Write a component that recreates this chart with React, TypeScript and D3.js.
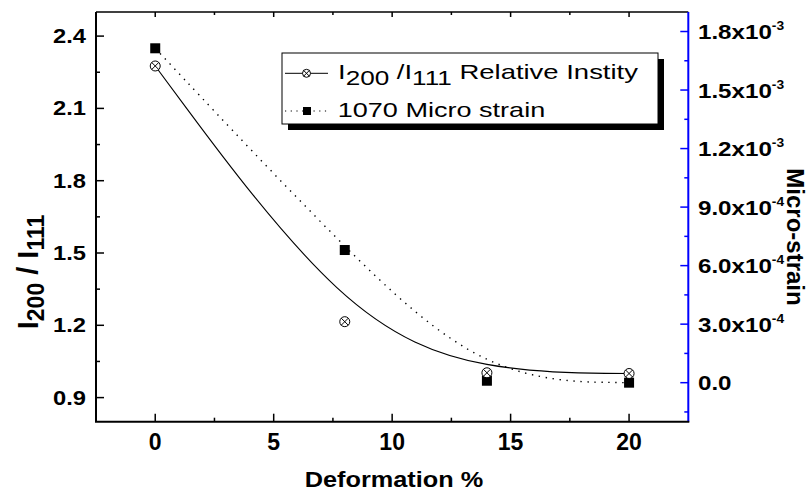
import React from "react";
import * as d3 from "d3";

// deformation (%) and the two measured series
const deformation = [0, 8, 14, 20];
const intensityRatio = [2.276, 1.215, 1.003, 1.0];
const microStrain = [1.714e-3, 6.8e-4, 1e-5, 0];

const xTicks = [0, 5, 10, 15, 20];
const leftTicks = [0.9, 1.2, 1.5, 1.8, 2.1, 2.4];
const rightTicks = [0, 3e-4, 6e-4, 9e-4, 1.2e-3, 1.5e-3, 1.8e-3];

const FONT = "'Liberation Sans', Arial, sans-serif";

const W = 810;
const H = 492;
const plot = { left: 96, top: 12, right: 688.3, bottom: 421.7 };

const minorsOf = (ticks: number[], domain: number[]) => {
  const step = ticks[1] - ticks[0];
  const out: number[] = [];
  ticks.forEach((t) => {
    [t - step / 2, t + step / 2].forEach((m) => {
      if (m > domain[0] + 1e-12 && m < domain[1] - 1e-12 && !out.some((o) => Math.abs(o - m) < step / 10)) out.push(m);
    });
  });
  return out;
};

const fmtSci = (v: number) => {
  if (v === 0) return { base: "0.0", exp: "" };
  const e = Math.floor(Math.log10(v) + 1e-9);
  return { base: `${(v / Math.pow(10, e)).toFixed(1)}x10`, exp: `${e}` };
};

const SText: React.FC<{
  x: number;
  y: number;
  sx?: number;
  anchor?: string;
  size: number;
  bold?: boolean;
  children: React.ReactNode;
}> = ({ x, y, sx = 1, anchor = "start", size, bold, children }) => (
  <text
    transform={`translate(${x},${y}) scale(${sx},1)`}
    textAnchor={anchor}
    fontSize={size}
    fontWeight={bold ? "bold" : "normal"}
    fontFamily={FONT}
  >
    {children}
  </text>
);

const CrossCircle: React.FC<{ cx: number; cy: number; r: number }> = ({ cx, cy, r }) => {
  const d = r * 0.707;
  return (
    <g stroke="#000" strokeWidth={1}>
      <circle cx={cx} cy={cy} r={r} fill="#fff" />
      <line x1={cx - d} y1={cy - d} x2={cx + d} y2={cy + d} />
      <line x1={cx - d} y1={cy + d} x2={cx + d} y2={cy - d} />
    </g>
  );
};

const App: React.FC = () => {
  const x = d3.scaleLinear().domain([-2.5, 22.5]).range([plot.left, plot.right]);
  const yL = d3.scaleLinear().domain([0.8, 2.5]).range([plot.bottom, plot.top]);
  const yR = d3.scaleLinear().domain([-2e-4, 1.9e-3]).range([plot.bottom, plot.top]);

  const ratioLine = d3
    .line<number>()
    .x((_, i) => x(deformation[i]))
    .y((d) => yL(d))
    .curve(d3.curveBasis)(intensityRatio);

  const strainLine = d3
    .line<number>()
    .x((_, i) => x(deformation[i]))
    .y((d) => yR(d))
    .curve(d3.curveBasis)(microStrain);

  const xMinor = minorsOf(xTicks, x.domain());
  const lMinor = minorsOf(leftTicks, yL.domain());
  const rMinor = minorsOf(rightTicks, yR.domain());

  const blue = "#0000ff";
  const sq = 10;

  return (
    <svg width={W} height={H} style={{ position: "absolute", left: 0, top: 0, background: "#fff" }}>
      <rect width={W} height={H} fill="#fff" />

      {/* curves */}
      <path d={ratioLine || ""} fill="none" stroke="#000" strokeWidth={1.1} />
      <path d={strainLine || ""} fill="none" stroke="#000" strokeWidth={1.4} strokeDasharray="1.4,5.6" />

      {/* markers */}
      {microStrain.map((v, i) => (
        <rect key={`s${i}`} x={x(deformation[i]) - sq / 2} y={yR(v) - sq / 2} width={sq} height={sq} fill="#000" />
      ))}
      {intensityRatio.map((v, i) => (
        <CrossCircle key={`c${i}`} cx={x(deformation[i])} cy={yL(v)} r={5} />
      ))}

      {/* frame */}
      <line x1={plot.left} x2={plot.right} y1={plot.top} y2={plot.top} stroke="#000" strokeWidth={1.5} />
      <line x1={plot.left} x2={plot.left} y1={plot.top} y2={plot.bottom} stroke="#000" strokeWidth={2} />
      <line x1={plot.right} x2={plot.right} y1={plot.top} y2={plot.bottom} stroke={blue} strokeWidth={2} />
      <line x1={plot.left - 1} x2={plot.right + 1} y1={plot.bottom} y2={plot.bottom} stroke="#000" strokeWidth={2} />

      {/* x ticks */}
      {xTicks.map((t) => (
        <g key={`xt${t}`} stroke="#000" strokeWidth={1.5}>
          <line x1={x(t)} x2={x(t)} y1={plot.bottom} y2={plot.bottom - 8} />
          <line x1={x(t)} x2={x(t)} y1={plot.top} y2={plot.top + 5} />
        </g>
      ))}
      {xMinor.map((t) => (
        <g key={`xm${t}`} stroke="#000" strokeWidth={1.5}>
          <line x1={x(t)} x2={x(t)} y1={plot.bottom} y2={plot.bottom - 4} />
          <line x1={x(t)} x2={x(t)} y1={plot.top} y2={plot.top + 3} />
        </g>
      ))}
      {xTicks.map((t) => (
        <SText key={`xl${t}`} x={x(t)} y={450} size={23} bold anchor="middle">
          {t}
        </SText>
      ))}

      {/* left ticks */}
      {leftTicks.map((t) => (
        <line key={`lt${t}`} x1={plot.left} x2={plot.left + 8} y1={yL(t)} y2={yL(t)} stroke="#000" strokeWidth={1.5} />
      ))}
      {lMinor.map((t) => (
        <line key={`lm${t}`} x1={plot.left} x2={plot.left + 4} y1={yL(t)} y2={yL(t)} stroke="#000" strokeWidth={1.5} />
      ))}
      {leftTicks.map((t) => (
        <SText key={`ll${t}`} x={86} y={yL(t) + 7} size={21} bold sx={1.13} anchor="end">
          {t.toFixed(1)}
        </SText>
      ))}

      {/* right ticks */}
      {rightTicks.map((t) => (
        <line key={`rt${t}`} x1={plot.right} x2={plot.right - 8} y1={yR(t)} y2={yR(t)} stroke={blue} strokeWidth={1.5} />
      ))}
      {rMinor.map((t) => (
        <line key={`rm${t}`} x1={plot.right} x2={plot.right - 4} y1={yR(t)} y2={yR(t)} stroke={blue} strokeWidth={1.5} />
      ))}
      {rightTicks.map((t) => {
        const f = fmtSci(t);
        return (
          <SText key={`rl${t}`} x={698} y={yR(t) + 7.5} size={21} bold sx={1.15}>
            {f.base}
            {f.exp && (
              <tspan fontSize={12} dy={-9}>
                {f.exp}
              </tspan>
            )}
          </SText>
        );
      })}

      {/* axis titles */}
      <SText x={394} y={487} size={22} bold sx={1.15} anchor="middle">
        Deformation %
      </SText>
      <text
        transform={`translate(787,237) rotate(90)`}
        textAnchor="middle"
        fontSize={24}
        fontWeight="bold"
        fontFamily={FONT}
      >
        Micro-strain
      </text>
      <text
        transform={`translate(38,272) rotate(-90)`}
        textAnchor="middle"
        fontSize={29}
        fontWeight="bold"
        fontFamily={FONT}
      >
        I
        <tspan fontSize={23} dy={6}>
          200
        </tspan>
        <tspan dy={-6}> / I</tspan>
        <tspan fontSize={23} dy={6}>
          111
        </tspan>
      </text>

      {/* legend */}
      <rect x={288} y={59} width={376} height={71} fill="#000" />
      <rect x={282} y={53} width={376} height={71} fill="#fff" stroke="#000" strokeWidth={1} />
      <line x1={285} x2={328} y1={73.3} y2={73.3} stroke="#000" strokeWidth={1} />
      <CrossCircle cx={306.5} cy={73.3} r={4} />
      <line x1={285} x2={328} y1={111} y2={111} stroke="#000" strokeWidth={1.2} strokeDasharray="1.2,4.5" />
      <rect x={303} y={107} width={8} height={8} fill="#000" />
      <SText x={338} y={79.3} size={20.5} sx={1.34}>
        I
        <tspan fontSize={19.5} dy={5.7}>
          200
        </tspan>
        <tspan dy={-5.7}> /I</tspan>
        <tspan fontSize={19.5} dy={5.7}>
          111
        </tspan>
        <tspan dy={-5.7}> Relative Instity</tspan>
      </SText>
      <SText x={337.7} y={117.3} size={20.5} sx={1.32}>
        1070 Micro strain
      </SText>
    </svg>
  );
};

export default App;
